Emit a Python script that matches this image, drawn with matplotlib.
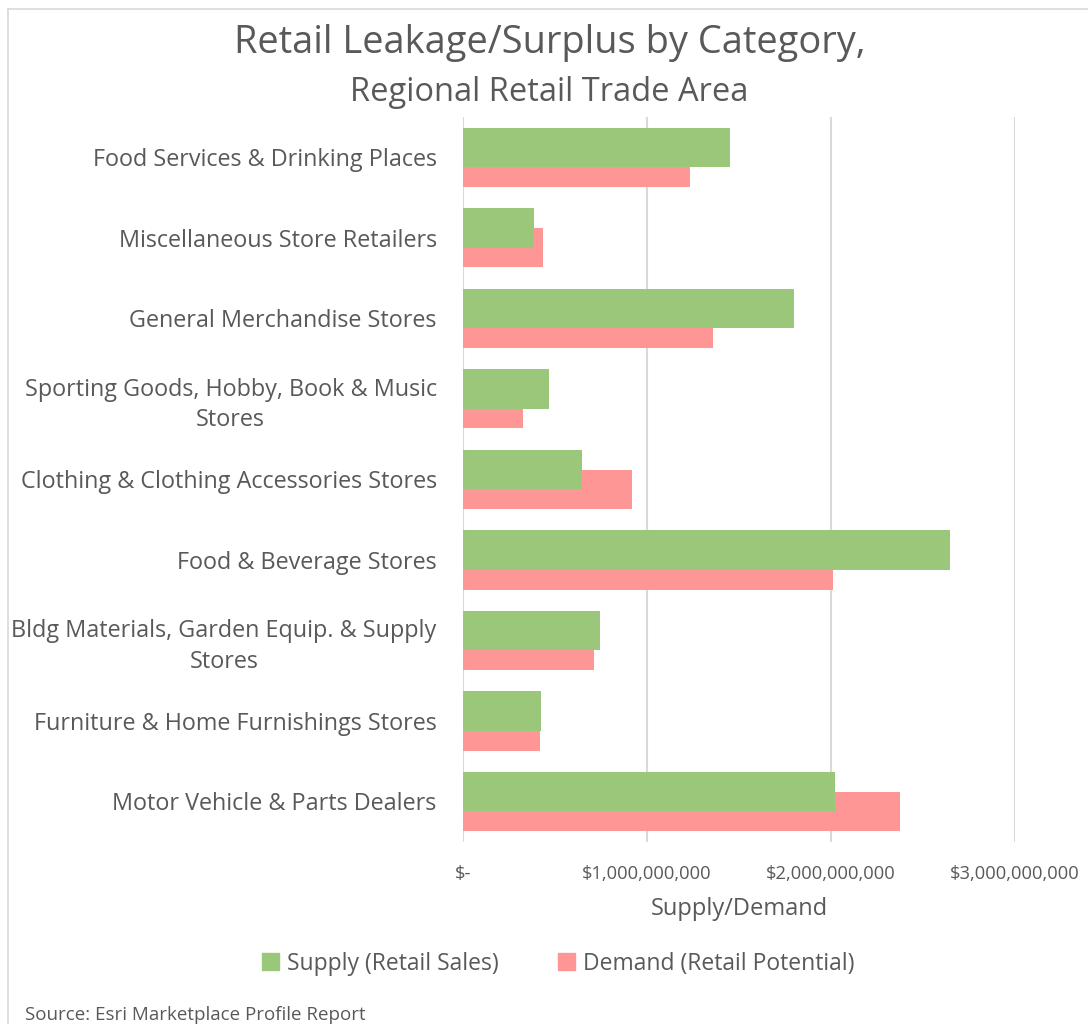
import matplotlib.pyplot as plt
from matplotlib.lines import Line2D
from matplotlib.ticker import FuncFormatter

plt.rcParams['font.family'] = ['Open Sans', 'DejaVu Sans']

# categories top to bottom as shown in the chart
categories = [
    "Food Services & Drinking Places",
    "Miscellaneous Store Retailers",
    "General Merchandise Stores",
    "Sporting Goods, Hobby, Book & Music\nStores",
    "Clothing & Clothing Accessories Stores",
    "Food & Beverage Stores",
    "Bldg Materials, Garden Equip. & Supply\nStores",
    "Furniture & Home Furnishings Stores",
    "Motor Vehicle & Parts Dealers",
]
supply = [1.451e9, 0.386e9, 1.799e9, 0.467e9, 0.647e9, 2.647e9, 0.745e9, 0.424e9, 2.022e9]
demand = [1.234e9, 0.435e9, 1.359e9, 0.326e9, 0.918e9, 2.011e9, 0.712e9, 0.418e9, 2.375e9]
xticks = [0, 1e9, 2e9, 3e9]

green = '#9AC779'
red = '#FF9696'
txt = '#595959'

fig = plt.figure(figsize=(10.88, 10.24), dpi=100)
ax = fig.add_axes([0.4256, 0.178, 0.5074, 0.7078])

n = len(categories)
pos = list(range(n))
h = 0.49
off = 0.123
# demand first so the supply bar sits on top where they overlap
ax.barh([p + off for p in pos], demand, height=h, color=red, zorder=2)
ax.barh([p - off for p in pos], supply, height=h, color=green, zorder=3)

ax.set_ylim(n - 0.5, -0.5)
ax.set_xlim(0, 3e9)
ax.set_yticks(pos)
ax.set_yticklabels(categories, fontsize=16.8, color=txt, multialignment='center',
                   linespacing=1.35)
ax.set_xticks(xticks)
ax.xaxis.set_major_formatter(FuncFormatter(lambda v, _: '$-' if v == 0 else f'${v:,.0f}'))
ax.tick_params(axis='x', labelsize=13.2, colors=txt, length=0, pad=17)
ax.tick_params(axis='y', length=0, pad=19)
ax.grid(axis='x', color='#D9D9D9', linewidth=1.5, zorder=0)
for s in ax.spines.values():
    s.set_visible(False)
ax.set_xlabel('Supply/Demand', fontsize=17, color=txt, labelpad=10)

fig.text(0.505, 0.958, 'Retail Leakage/Surplus by Category,', fontsize=27.4,
         color=txt, ha='center', va='center')
fig.text(0.505, 0.910, 'Regional Retail Trade Area', fontsize=23.5,
         color=txt, ha='center', va='center')

handles = [plt.Rectangle((0, 0), 1, 1, color=green), plt.Rectangle((0, 0), 1, 1, color=red)]
fig.legend(handles, ['Supply (Retail Sales)', 'Demand (Retail Potential)'],
           loc='center', bbox_to_anchor=(0.513, 0.059), ncol=2, frameon=False,
           fontsize=16.5, labelcolor=txt, handlelength=0.75, handleheight=0.75,
           handletextpad=0.35, columnspacing=2.6)

fig.text(0.023, 0.009, 'Source: Esri Marketplace Profile Report', fontsize=13.5,
         color=txt, ha='left', va='center')

# chart area border
fig.add_artist(Line2D([0.0075, 0.0075], [0, 0.991], color='#D9D9D9', lw=1.2))
fig.add_artist(Line2D([0.0075, 1.0], [0.991, 0.991], color='#D9D9D9', lw=1.2))

fig.savefig('out.png', dpi=100)
